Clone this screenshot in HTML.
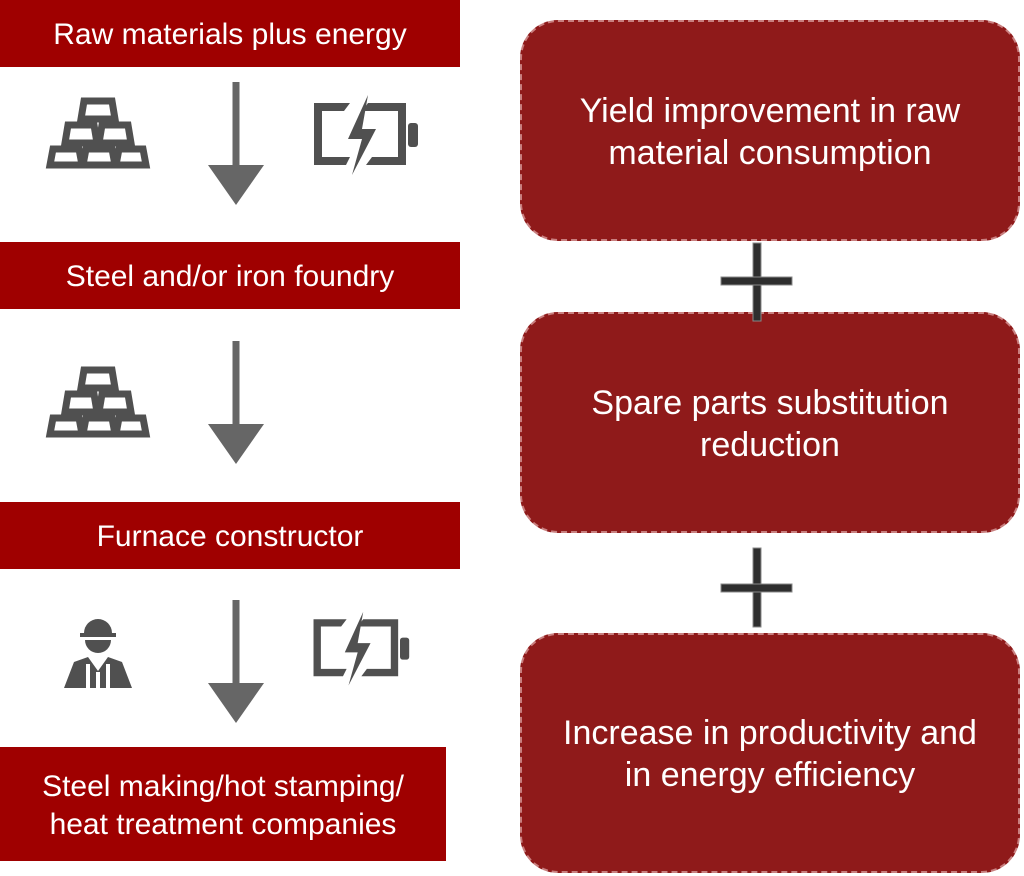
<!DOCTYPE html>
<html><head><style>
body{margin:0;width:1024px;height:876px;background:#fff;position:relative;overflow:hidden;font-family:"Liberation Sans",sans-serif}
.bar{position:absolute;left:0;background:#9f0000;color:#fff;font-size:30px;display:flex;align-items:center;justify-content:center;text-align:center;line-height:38px;padding-top:3px;box-sizing:border-box}
.box{position:absolute;left:520px;width:500px;background:#8f1a1a;border:2px dashed #c98080;box-sizing:border-box;border-radius:38px;color:#fff;font-size:34px;line-height:42px;display:flex;align-items:center;justify-content:center;text-align:center;padding-top:2px}
svg{position:absolute;left:0;top:0}
</style></head><body>
<div class="bar" style="top:0;width:460px;height:67px">Raw materials plus energy</div>
<div class="bar" style="top:242px;width:460px;height:67px">Steel and/or iron foundry</div>
<div class="bar" style="top:502px;width:460px;height:67px">Furnace constructor</div>
<div class="bar" style="top:747px;width:446px;height:114px">Steel making/hot stamping/<br>heat treatment companies</div>
<div class="box" style="top:20px;height:221px">Yield improvement in raw<br>material consumption</div>
<div class="box" style="top:312px;height:221px">Spare parts substitution<br>reduction</div>
<div class="box" style="top:633px;height:240px">Increase in productivity and<br>in energy efficiency</div>
<svg width="1024" height="876">
<defs>
<g id="gold" fill="none" stroke="#505050" stroke-width="7" stroke-linejoin="miter">
<path d="M36 4 h28 l3 18 h-34 z"/>
<path d="M20 28 h26 l3 18 h-32 z"/>
<path d="M54 28 h26 l3 18 h-32 z"/>
<path d="M5 52 h26 l3 16 h-32 z"/>
<path d="M38 52 h26 l3 16 h-32 z"/>
<path d="M71 52 h24 l3 16 h-30 z"/>
</g>
<g id="bat" fill="#505050">
<path d="M6 10 h36 l-6 8 h-22 v46 h28 l-4 8 h-32 z" />
<path d="M60 10 h38 v62 h-40 l6 -8 h26 v-46 h-36 z"/>
<rect x="100" y="30" width="10" height="24" rx="3"/>
<path d="M60 2 l-20 44 h14 l-10 36 l24 -46 h-14 z"/>
</g>
<g id="arr" fill="#666">
<rect x="-3.5" y="0" width="7" height="85"/>
<path d="M-28 83 h56 l-28 40 z"/>
</g>
</defs>
<use href="#gold" x="48" y="97"/>
<use href="#bat" x="308" y="93"/>
<use href="#arr" x="236" y="82"/>
<use href="#gold" x="48" y="366"/>
<use href="#arr" x="236" y="341"/>
<use href="#arr" x="236" y="600"/>
<g transform="translate(308,610) scale(0.92)"><use href="#bat"/></g>
<g fill="#505050">
<path d="M84 633 a14 14 0 0 1 28 0 v2 h-28 z"/>
<rect x="80" y="633" width="36" height="4"/>
<path d="M85 640 h26 a13 13 0 0 1 -26 0 z"/>
<path d="M74 662 l14 -5 l10 14 l10 -14 l14 5 l10 26 h-68 z"/>
</g>
<g fill="#fff"><rect x="86" y="664" width="4" height="24"/><rect x="106" y="664" width="4" height="24"/><rect x="96" y="672" width="4" height="16"/></g>
<g fill="#2e2e2e" stroke="#888" stroke-width="1">
<rect x="753" y="243" width="8" height="78"/>
<rect x="721" y="277" width="71" height="8"/>
<rect x="753" y="548" width="8" height="79"/>
<rect x="721" y="584" width="71" height="8"/>
</g>
</svg>
</body></html>
